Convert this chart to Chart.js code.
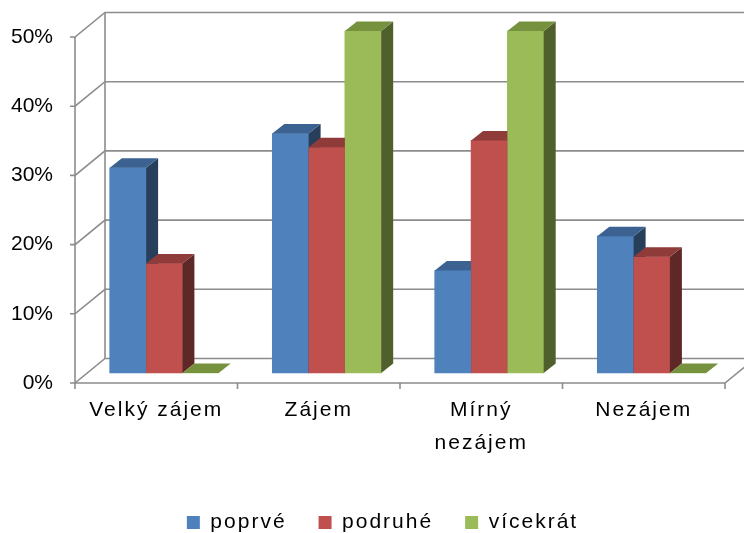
<!DOCTYPE html>
<html>
<head>
<meta charset="utf-8">
<script src="https://cdn.jsdelivr.net/npm/chart.js@4/dist/chart.umd.min.js"></script>
<style>
  html, body { margin: 0; padding: 0; background: #ffffff; }
  #wrap { width: 744px; height: 533px; position: relative; }
</style>
</head>
<body>
<div id="wrap"><canvas id="c" width="744" height="533"></canvas></div>
<script>
// ---- data ----
const categories = ['Velký zájem', 'Zájem', ['Mírný', 'nezájem'], 'Nezájem'];
const seriesNames = ['poprvé', 'podruhé', 'vícekrát'];
const poprve = [0.30, 0.35, 0.15, 0.20];
const podruhe = [0.16, 0.33, 0.34, 0.17];
const vicekrat = [0.00, 0.50, 0.50, 0.00];
const yTicks = [0, 0.1, 0.2, 0.3, 0.4, 0.5];

// ---- styles ----
const frontColors = ['#4F81BD', '#C0504D', '#9BBB59'];
const topColors = ['#3B6291', '#8E3B39', '#77923E'];
const sideColors = ['#283F5C', '#5E2827', '#4F602C'];
const wallDepth = { dx: 30, dy: -24.5 };
const barDepth = { dx: 12, dy: -9.5 };
const barShiftPx = 8;
const catWidthPx = 162.5;

const seriesValues = [poprve, podruhe, vicekrat];

function line(ctx, pts) {
  ctx.beginPath();
  ctx.moveTo(pts[0][0], pts[0][1]);
  for (let i = 1; i < pts.length; i++) ctx.lineTo(pts[i][0], pts[i][1]);
  ctx.stroke();
}
function poly(ctx, pts, color) {
  ctx.beginPath();
  ctx.moveTo(pts[0][0], pts[0][1]);
  for (let i = 1; i < pts.length; i++) ctx.lineTo(pts[i][0], pts[i][1]);
  ctx.closePath();
  ctx.fillStyle = color;
  ctx.fill();
}

const threeD = {
  id: 'threeD',
  beforeUpdate(chart) { chart.ctx.letterSpacing = '2px'; },
  afterLayout(chart) {
    if (chart.legend) { chart.legend.left += 20; chart.legend.right += 20; }
  },
  beforeDatasetsDraw(chart) {
    const ctx = chart.ctx;
    const xs = chart.scales.x, ys = chart.scales.y;
    const L = xs.left, R = xs.right;
    const dx = wallDepth.dx, dy = wallDepth.dy;
    ctx.save();
    ctx.strokeStyle = '#8C8C8C';
    ctx.lineWidth = 1.6;
    yTicks.forEach(v => {
      const y = ys.getPixelForValue(v);
      line(ctx, [[L - 5, y], [L, y], [L + dx, y + dy], [R + dx + 40, y + dy]]);
    });
    const y0 = ys.getPixelForValue(0), y5 = ys.getPixelForValue(0.5);
    line(ctx, [[L, y0], [L, y5]]);
    line(ctx, [[L + dx, y0 + dy], [L + dx, y5 + dy]]);
    line(ctx, [[L, y0], [R, y0], [R + dx, y0 + dy]]);
    for (let i = 0; i <= categories.length; i++) {
      const x = L + i * (R - L) / categories.length;
      line(ctx, [[x, y0], [x, y0 + 6]]);
    }
    ctx.restore();
  },
  afterDatasetsDraw(chart) {
    const ctx = chart.ctx;
    const dx = barDepth.dx, dy = barDepth.dy;
    ctx.save();
    // draw each series left-to-right so right bars overlap the side faces of left bars
    for (let k = 0; k < seriesNames.length; k++) {
      const meta = chart.getDatasetMeta(k);
      meta.data.forEach(bar => {
        const p = bar.getProps(['x', 'y', 'base', 'width'], true);
        const x1 = p.x - p.width / 2, x2 = p.x + p.width / 2;
        const top = Math.min(p.y, p.base), base = p.base;
        poly(ctx, [[x1, top], [x2, top], [x2, base], [x1, base]], frontColors[k]);
        poly(ctx, [[x2, top], [x2 + dx, top + dy], [x2 + dx, base + dy], [x2, base]], sideColors[k]);
        poly(ctx, [[x1, top], [x2, top], [x2 + dx, top + dy], [x1 + dx, top + dy]], topColors[k]);
      });
    }
    ctx.restore();
    ctx.letterSpacing = '0px';
  }
};

const shift = barShiftPx / catWidthPx;
const datasets = seriesNames.map((name, k) => ({
  label: name,
  data: categories.map((c, i) => ({ x: i, y: seriesValues[k][i] })),
  backgroundColor: frontColors[k],
  borderWidth: 0,
  xAxisID: 'xb',
  yAxisID: 'yb',
  clip: false,
  barThickness: 36.3
}));

new Chart(document.getElementById('c'), {
  type: 'bar',
  data: { labels: categories, datasets },
  plugins: [threeD],
  options: {
    responsive: false,
    animation: false,
    layout: { padding: { left: 0, right: 19, top: 37, bottom: -10 } },
    plugins: {
      tooltip: { enabled: false },
      legend: {
        position: 'bottom',
        labels: {
          sort: (a, b) => a.datasetIndex - b.datasetIndex,
          boxWidth: 13, boxHeight: 13, padding: 32,
          color: '#000000',
          font: { family: 'Liberation Sans', size: 21 }
        }
      }
    },
    scales: {
      x: {
        type: 'category',
        position: 'bottom',
        grid: { display: false },
        border: { display: false },
        ticks: { color: '#000000', padding: 2, maxRotation: 0, autoSkip: false,
                 font: { family: 'Liberation Sans', size: 21, lineHeight: 1.6 } },
        afterFit: s => { s.height = 97; }
      },
      y: {
        type: 'linear',
        position: 'left',
        min: 0, max: 0.5,
        grid: { display: false },
        border: { display: false },
        afterBuildTicks: s => { s.ticks = yTicks.map(v => ({ value: v })); },
        ticks: { color: '#000000', padding: 14, z: 1,
                 callback: v => Math.round(v * 100) + '%',
                 font: { family: 'Liberation Sans', size: 21 } },
        afterFit: s => { s.width = 75; }
      },
      xb: {
        type: 'linear', display: false, offset: false,
        min: -0.5 - shift, max: categories.length - 0.5 - shift
      },
      yb: {
        type: 'linear', display: false,
        min: -0.01462, max: 0.49123
      }
    }
  }
});
</script>
</body>
</html>
